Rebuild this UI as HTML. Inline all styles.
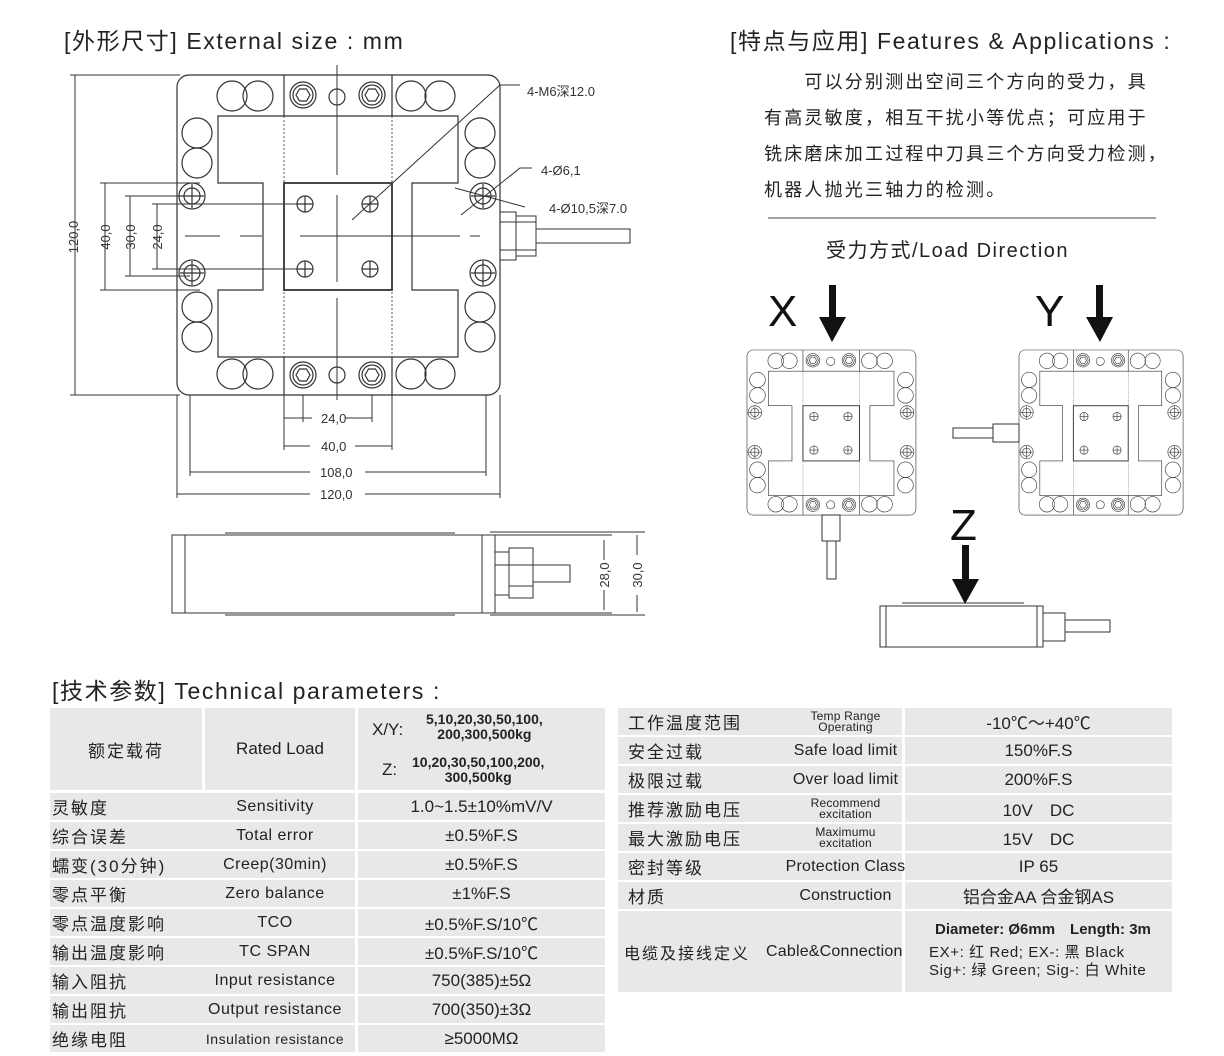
<!DOCTYPE html>
<html><head><meta charset="utf-8"><style>
body{margin:0;background:#fff;width:1224px;height:1056px;overflow:hidden;position:relative;font-family:"Liberation Sans","Noto Sans CJK SC",sans-serif;color:#222}
.t{position:absolute;white-space:nowrap}
.c{position:absolute;background:#e8e8e8;display:flex;align-items:center;font-size:17px;box-sizing:border-box;white-space:nowrap}
.c.m{justify-content:center}
.cn{letter-spacing:2px}
svg{position:absolute;left:0;top:0}
</style></head><body>
<svg width="1224" height="1056" viewBox="0 0 1224 1056">
<defs>
<symbol id="plate" viewBox="0 0 323 320" overflow="visible">
<g fill="none" stroke="#333" stroke-width="1.2">
<rect x="0" y="0" width="323" height="320" rx="12"/>
<path d="M41,41H281V108H235V215H281V282H41V215H86V108H41Z"/>
<rect x="107" y="108" width="108" height="107" stroke-width="1.8"/>
<path d="M107,0V41M215,0V41M107,282V320M215,282V320"/>
<path d="M107,41V282M215,41V282" stroke-dasharray="2 2" stroke-width="0.8"/>
<circle cx="55" cy="21" r="15"/><circle cx="81" cy="21" r="15"/>
<circle cx="234" cy="21" r="15"/><circle cx="263" cy="21" r="15"/>
<circle cx="55" cy="299" r="15"/><circle cx="81" cy="299" r="15"/>
<circle cx="234" cy="299" r="15"/><circle cx="263" cy="299" r="15"/>
<circle cx="20" cy="58" r="15"/><circle cx="20" cy="88" r="15"/>
<circle cx="303" cy="58" r="15"/><circle cx="303" cy="88" r="15"/>
<circle cx="20" cy="232" r="15"/><circle cx="20" cy="262" r="15"/>
<circle cx="303" cy="232" r="15"/><circle cx="303" cy="262" r="15"/>
<circle cx="126" cy="20" r="13"/><circle cx="126" cy="20" r="10"/><polygon points="119,20 122.5,14 129.5,14 133,20 129.5,26 122.5,26"/>
<circle cx="195" cy="20" r="13"/><circle cx="195" cy="20" r="10"/><polygon points="188,20 191.5,14 198.5,14 202,20 198.5,26 191.5,26"/>
<circle cx="126" cy="300" r="13"/><circle cx="126" cy="300" r="10"/><polygon points="119,300 122.5,294 129.5,294 133,300 129.5,306 122.5,306"/>
<circle cx="195" cy="300" r="13"/><circle cx="195" cy="300" r="10"/><polygon points="188,300 191.5,294 198.5,294 202,300 198.5,306 191.5,306"/>
<circle cx="160" cy="22" r="8"/><circle cx="160" cy="300" r="8"/>
<circle cx="15" cy="121" r="13"/><circle cx="15" cy="121" r="8"/>
<circle cx="15" cy="198" r="13"/><circle cx="15" cy="198" r="8"/>
<circle cx="306" cy="121" r="13"/><circle cx="306" cy="121" r="8"/>
<circle cx="306" cy="198" r="13"/><circle cx="306" cy="198" r="8"/>
<circle cx="128" cy="129" r="8"/><circle cx="193" cy="129" r="8"/>
<circle cx="128" cy="194" r="8"/><circle cx="193" cy="194" r="8"/>
<path d="M120,129h16M128,121v16M185,129h16M193,121v16M120,194h16M128,186v16M185,194h16M193,186v16M3,121h24M15,109v24M3,198h24M15,186v24M294,121h24M306,109v24M294,198h24M306,186v24"/>
</g>
</symbol>
</defs>
<g fill="none" stroke="#333" stroke-width="1">
<use href="#plate" x="177" y="75" width="323" height="320"/>
<path d="M337,65V175M337,195V282M337,298V400M185,236H220M240,236H262M300,236H460M470,236H480"/>
<rect x="500" y="212" width="16" height="48"/><rect x="516" y="216" width="20" height="40"/>
<path d="M500,222h36M500,250h36"/>
<rect x="536" y="229" width="94" height="14"/>
<path d="M352,220L500,85H520M461,215L520,168H532M455,188L525,207"/>
<path d="M70,75H180M70,395H180M75,75V395"/>
<path d="M100,183H200M105,183V290M100,290H200"/>
<path d="M125,196H190M130,196V276M125,276H190"/>
<path d="M152,204H300M157,204V269M152,269H300"/>
<path d="M284,395V450M392,395V450M303,395V422M372,395V422M190,395V476M486,395V476M177,395V498M500,395V498"/>
<path d="M284,418H312M345,418H372M284,446H310M355,446H392M190,472H310M365,472H486M177,494H310M365,494H500"/>
<rect x="172" y="535" width="323" height="78"/>
<path d="M185,535V613M482,535V613M225,533H455M225,615H455"/>
<rect x="495" y="552" width="14" height="43"/><rect x="509" y="548" width="24" height="50"/>
<path d="M495,565h38M509,586h24"/>
<rect x="533" y="565" width="37" height="17"/>
<path d="M495,535H612M495,613H612M604,540V560M604,590V610M490,532H645M490,615H645M637,535V555M637,595V612"/>
<use href="#plate" x="0" y="0" width="323" height="320" transform="translate(747,350) scale(0.523,0.516)"/>
<use href="#plate" x="0" y="0" width="323" height="320" transform="translate(1019,350) scale(0.508,0.516)"/>
<rect x="822" y="515" width="18" height="26"/><rect x="827" y="541" width="9" height="38"/>
<rect x="993" y="424" width="26" height="18"/><rect x="953" y="428" width="40" height="10"/>
<rect x="880" y="606" width="163" height="41"/><path d="M886,606V647M1037,606V647M902,603H1024"/>
<rect x="1043" y="613" width="22" height="28"/><rect x="1065" y="620" width="45" height="12"/>
<path d="M768,218H1156" stroke="#444"/>
</g>
<g fill="#111">
<rect x="829" y="285" width="7" height="34"/><polygon points="819,317 846,317 832,342"/>
<rect x="1096" y="285" width="7" height="34"/><polygon points="1086,317 1113,317 1100,342"/>
<rect x="962" y="545" width="7" height="36"/><polygon points="952,579 979,579 965,604"/>
</g>
<g font-family="Liberation Sans,sans-serif" font-size="13" fill="#333">
<text x="527" y="96">4-M6深12.0</text>
<text x="541" y="175">4-Ø6,1</text>
<text x="549" y="213">4-Ø10,5深7.0</text>
<text x="321" y="423">24,0</text><text x="321" y="451">40,0</text>
<text x="320" y="477">108,0</text><text x="320" y="499">120,0</text>
<text transform="translate(78,237) rotate(-90)" text-anchor="middle">120,0</text>
<text transform="translate(110,237) rotate(-90)" text-anchor="middle">40,0</text>
<text transform="translate(135,237) rotate(-90)" text-anchor="middle">30,0</text>
<text transform="translate(162,237) rotate(-90)" text-anchor="middle">24,0</text>
<text transform="translate(609,575) rotate(-90)" text-anchor="middle">28,0</text>
<text transform="translate(642,575) rotate(-90)" text-anchor="middle">30,0</text>
</g>
<g font-family="Liberation Sans,sans-serif" font-size="44" fill="#111">
<text x="768" y="326">X</text><text x="1035" y="326">Y</text><text x="950" y="540">Z</text>
</g>
</svg>
<div class="t" style="left:64px;top:22px;font-size:23px;letter-spacing:1.6px">[外形尺寸] External size : mm</div>
<div class="t" style="left:730px;top:22px;font-size:23px;letter-spacing:1.6px">[特点与应用] Features &amp; Applications :</div>
<div class="t" style="left:764px;top:64px;font-size:18px;line-height:36px;letter-spacing:2.2px">　　可以分别测出空间三个方向的受力，具<br>有高灵敏度，相互干扰小等优点；可应用于<br>铣床磨床加工过程中刀具三个方向受力检测，<br>机器人抛光三轴力的检测。</div>
<div class="t" style="left:826px;top:234px;font-size:20px;letter-spacing:1.5px">受力方式/Load Direction</div>
<div class="t" style="left:52px;top:672px;font-size:23px;letter-spacing:1.6px">[技术参数] Technical parameters :</div>

<div class="c m cn" style="left:50px;top:708px;width:152px;height:82px">额定载荷</div>
<div class="c m" style="left:205px;top:708px;width:150px;height:82px">Rated Load</div>
<div class="c" style="left:358px;top:708px;width:247px;height:82px;font-size:14px;font-weight:bold;display:block">
<div style="position:absolute;left:14px;top:12px;font-size:17px;font-weight:normal">X/Y:</div><div style="position:absolute;left:68px;top:4px;text-align:center;line-height:15px">5,10,20,30,50,100,<br>200,300,500kg</div>
<div style="position:absolute;left:24px;top:52px;font-size:17px;font-weight:normal">Z:</div><div style="position:absolute;left:54px;top:47px;text-align:center;line-height:15px">10,20,30,50,100,200,<br>300,500kg</div></div>

<div id="L"></div>
<script>
var rowsL=[["灵敏度","Sensitivity","1.0~1.5±10%mV/V"],["综合误差","Total error","±0.5%F.S"],["蠕变(30分钟)","Creep(30min)","±0.5%F.S"],["零点平衡","Zero balance","±1%F.S"],["零点温度影响","TCO","±0.5%F.S/10℃"],["输出温度影响","TC SPAN","±0.5%F.S/10℃"],["输入阻抗","Input resistance","750(385)±5Ω"],["输出阻抗","Output resistance","700(350)±3Ω"],["绝缘电阻","Insulation resistance","≥5000MΩ"]];
var h="";
rowsL.forEach(function(r,i){var y=793+i*29;
h+='<div class="c" style="left:50px;top:'+y+'px;width:305px;height:27px"><span class="cn" style="position:absolute;left:2px">'+r[0]+'</span><span style="position:absolute;left:150px;width:150px;text-align:center;font-size:'+(i==8?14:16)+'px;letter-spacing:0.5px">'+r[1]+'</span></div>';
h+='<div class="c m" style="left:358px;top:'+y+'px;width:247px;height:27px">'+r[2]+'</div>';});
var rowsR=[["工作温度范围","Temp Range<br>Operating","-10℃～+40℃",1],["安全过载","Safe load limit","150%F.S",0],["极限过载","Over load limit","200%F.S",0],["推荐激励电压","Recommend<br>excitation","10V　DC",1],["最大激励电压","Maximumu<br>excitation","15V　DC",1],["密封等级","Protection Class","IP 65",0],["材质","Construction","铝合金AA  合金钢AS",0]];
rowsR.forEach(function(r,i){var y=708+i*29;
h+='<div class="c" style="left:618px;top:'+y+'px;width:284px;height:27px"><span class="cn" style="position:absolute;left:10px">'+r[0]+'</span><span style="position:absolute;left:140px;width:175px;text-align:center;font-size:'+(r[3]?12:16)+'px;line-height:11px;letter-spacing:0.2px">'+r[1]+'</span></div>';
h+='<div class="c m" style="left:905px;top:'+y+'px;width:267px;height:27px">'+r[2]+'</div>';});
h+='<div class="c" style="left:618px;top:911px;width:284px;height:81px;font-size:16px"><span class="cn" style="position:absolute;left:6px">电缆及接线定义</span><span style="position:absolute;left:148px;letter-spacing:0.2px">Cable&amp;Connection</span></div>';
h+='<div class="c" style="left:905px;top:911px;width:267px;height:81px;display:block;font-size:15px;line-height:18px"><div style="position:absolute;left:30px;top:10px;font-weight:bold">Diameter: Ø6mm　Length: 3m</div><div style="position:absolute;left:24px;top:33px;letter-spacing:0.6px">EX+: 红  Red; EX-: 黑  Black<br>Sig+: 绿 Green; Sig-: 白 White</div></div>';
document.getElementById("L").innerHTML=h;
</script>
</body></html>
